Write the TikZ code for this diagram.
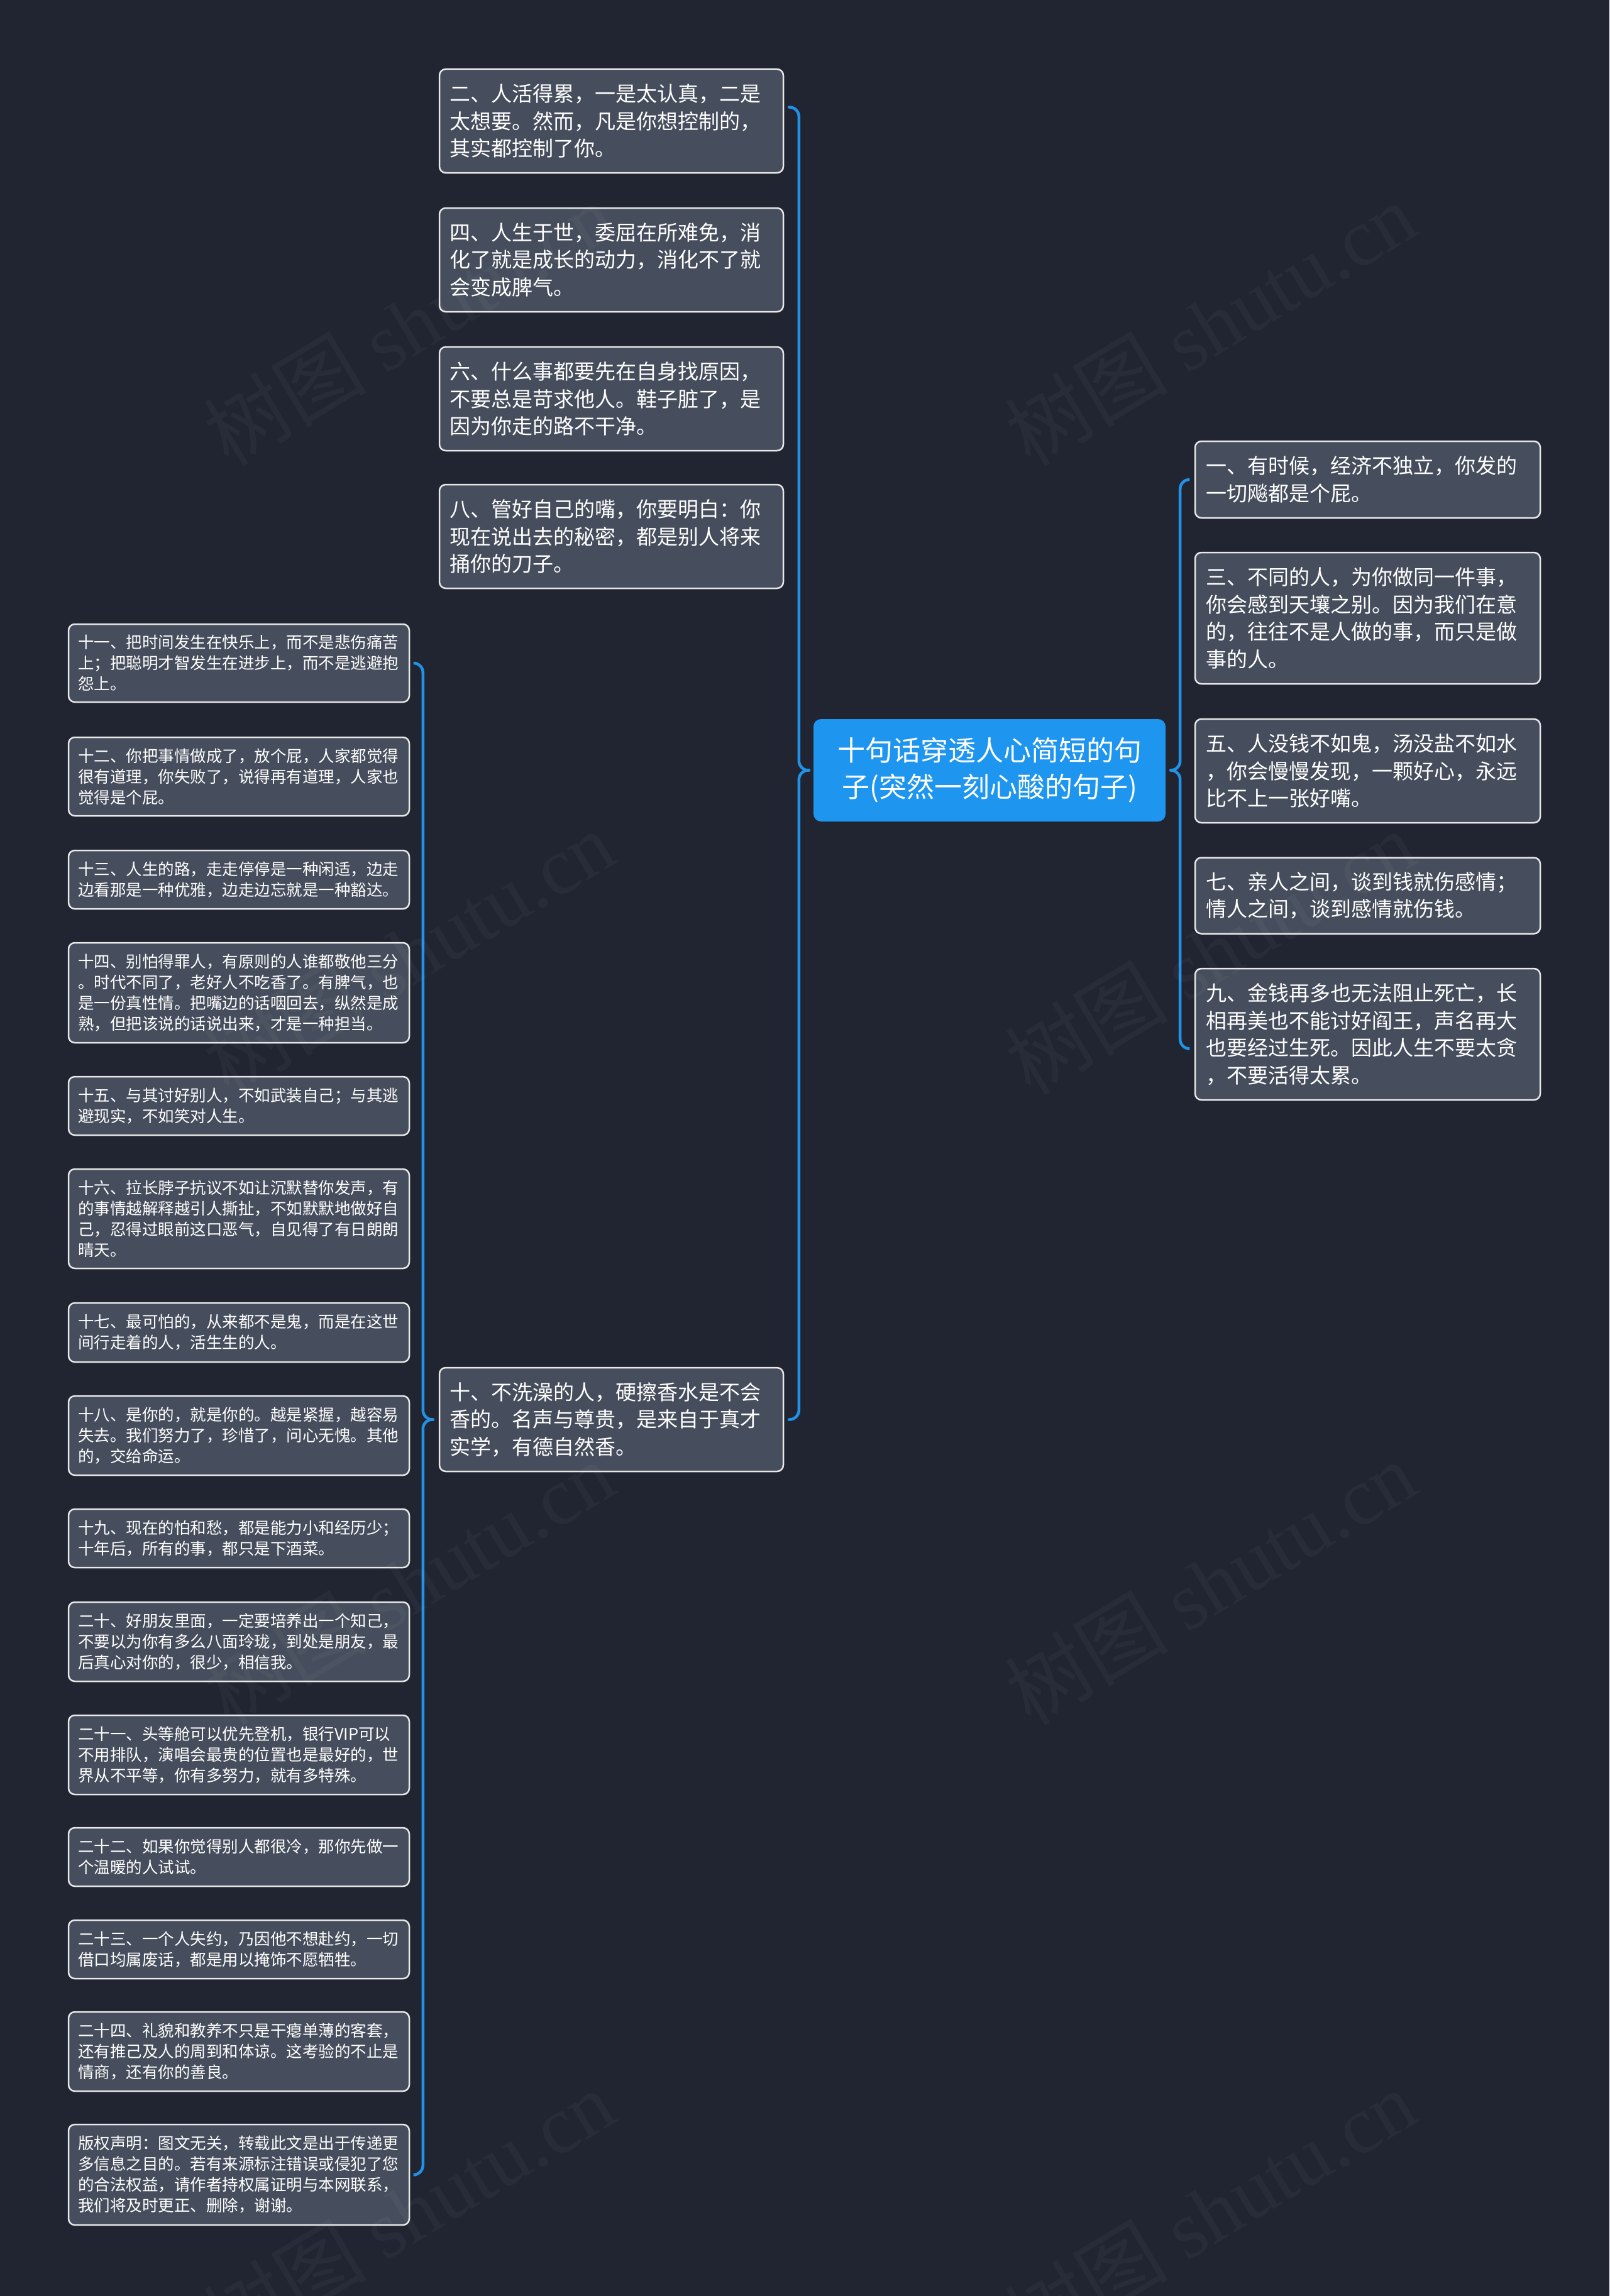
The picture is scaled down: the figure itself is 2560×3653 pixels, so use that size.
\documentclass[tikz,border=0pt]{standalone}
\usepackage{fontspec}
\setmainfont{Noto Sans CJK SC}
\newfontfamily\wmlatin{Liberation Serif}
\usetikzlibrary{calc}
\definecolor{bgc}{HTML}{212531}
\definecolor{boxfill}{HTML}{464D5C}
\definecolor{boxline}{HTML}{E8E8E8}
\definecolor{rootfill}{HTML}{1E96F0}
\definecolor{linkc}{HTML}{2192E8}
\tikzset{
  card/.style={draw=boxline, line width=2.5pt, fill=boxfill, rounded corners=10pt, text=white, align=left, inner ysep=0pt},
  midcard/.style={card, text width=515pt, inner xsep=16pt, font=\fontsize{33pt}{43.5pt}\selectfont},
  rightcard/.style={card, text width=515pt, inner xsep=17pt, font=\fontsize{33pt}{43.5pt}\selectfont},
  leftcard/.style={card, text width=512pt, inner xsep=15pt, font=\fontsize{25.5pt}{33pt}\selectfont},
  rootcard/.style={fill=rootfill, rounded corners=12pt, text=white, align=center, text width=520pt, inner xsep=20pt, inner ysep=0pt, font=\fontsize{44pt}{58pt}\selectfont},
  link/.style={draw=linkc, line width=4.5pt, rounded corners=15pt, line cap=round},
  wm/.style={text=white, text opacity=0.035, rotate=31, font=\fontsize{130pt}{130pt}\selectfont}
}
\hfuzz=20pt
\begin{document}
\begin{tikzpicture}[x=1pt, y=-1pt]
\useasboundingbox (0,0) rectangle (2560,3653);
\fill[bgc] (0,0) rectangle (2560,3653);

% root
\node[rootcard, minimum height=163pt] (root) at (1574,1225.5) {十句话穿透人心简短的句\\子(突然一刻心酸的句子)};

% middle column
\node[midcard, minimum height=165pt] (n2) at (972.5,192.5) {二、人活得累，一是太认真，二是\\太想要。然而，凡是你想控制的，\\其实都控制了你。};
\node[midcard, minimum height=165pt] (n4) at (972.5,413.5) {四、人生于世，委屈在所难免，消\\化了就是成长的动力，消化不了就\\会变成脾气。};
\node[midcard, minimum height=165pt] (n6) at (972.5,634.5) {六、什么事都要先在自身找原因，\\不要总是苛求他人。鞋子脏了，是\\因为你走的路不干净。};
\node[midcard, minimum height=165pt] (n8) at (972.5,853.5) {八、管好自己的嘴，你要明白：你\\现在说出去的秘密，都是别人将来\\捅你的刀子。};
\node[midcard, minimum height=165pt] (n10) at (972.5,2258.5) {十、不洗澡的人，硬擦香水是不会\\香的。名声与尊贵，是来自于真才\\实学，有德自然香。};

% right column
\node[rightcard, minimum height=122pt] (n1) at (2175.5,763) {一、有时候，经济不独立，你发的\\一切飚都是个屁。};
\node[rightcard, minimum height=209pt] (n3) at (2175.5,983.5) {三、不同的人，为你做同一件事，\\你会感到天壤之别。因为我们在意\\的，往往不是人做的事，而只是做\\事的人。};
\node[rightcard, minimum height=165pt] (n5) at (2175.5,1226.5) {五、人没钱不如鬼，汤没盐不如水\\，你会慢慢发现，一颗好心，永远\\比不上一张好嘴。};
\node[rightcard, minimum height=121pt] (n7) at (2175.5,1425) {七、亲人之间，谈到钱就伤感情；\\情人之间，谈到感情就伤钱。};
\node[rightcard, minimum height=209pt] (n9) at (2175.5,1645.5) {九、金钱再多也无法阻止死亡，长\\相再美也不能讨好阎王，声名再大\\也要经过生死。因此人生不要太贪\\，不要活得太累。};

% left column
\node[leftcard, minimum height=124pt] (n11) at (380,1055) {十一、把时间发生在快乐上，而不是悲伤痛苦\\上；把聪明才智发生在进步上，而不是逃避抱\\怨上。};
\node[leftcard, minimum height=125pt] (n12) at (380,1235.5) {十二、你把事情做成了，放个屁，人家都觉得\\很有道理，你失败了，说得再有道理，人家也\\觉得是个屁。};
\node[leftcard, minimum height=93pt] (n13) at (380,1399.5) {十三、人生的路，走走停停是一种闲适，边走\\边看那是一种优雅，边走边忘就是一种豁达。};
\node[leftcard, minimum height=159pt] (n14) at (380,1579.5) {十四、别怕得罪人，有原则的人谁都敬他三分\\。时代不同了，老好人不吃香了。有脾气，也\\是一份真性情。把嘴边的话咽回去，纵然是成\\熟，但把该说的话说出来，才是一种担当。};
\node[leftcard, minimum height=93pt] (n15) at (380,1759.5) {十五、与其讨好别人，不如武装自己；与其逃\\避现实，不如笑对人生。};
\node[leftcard, minimum height=158pt] (n16) at (380,1939) {十六、拉长脖子抗议不如让沉默替你发声，有\\的事情越解释越引人撕扯，不如默默地做好自\\己，忍得过眼前这口恶气，自见得了有日朗朗\\晴天。};
\node[leftcard, minimum height=94pt] (n17) at (380,2120) {十七、最可怕的，从来都不是鬼，而是在这世\\间行走着的人，活生生的人。};
\node[leftcard, minimum height=126pt] (n18) at (380,2284) {十八、是你的，就是你的。越是紧握，越容易\\失去。我们努力了，珍惜了，问心无愧。其他\\的，交给命运。};
\node[leftcard, minimum height=93pt] (n19) at (380,2447.5) {十九、现在的怕和愁，都是能力小和经历少；\\十年后，所有的事，都只是下酒菜。};
\node[leftcard, minimum height=126pt] (n20) at (380,2612) {二十、好朋友里面，一定要培养出一个知己，\\不要以为你有多么八面玲珑，到处是朋友，最\\后真心对你的，很少，相信我。};
\node[leftcard, minimum height=126pt] (n21) at (380,2792) {二十一、头等舱可以优先登机，银行VIP可以\\不用排队，演唱会最贵的位置也是最好的，世\\界从不平等，你有多努力，就有多特殊。};
\node[leftcard, minimum height=93pt] (n22) at (380,2954.5) {二十二、如果你觉得别人都很冷，那你先做一\\个温暖的人试试。};
\node[leftcard, minimum height=93pt] (n23) at (380,3101.5) {二十三、一个人失约，乃因他不想赴约，一切\\借口均属废话，都是用以掩饰不愿牺牲。};
\node[leftcard, minimum height=126pt] (n24) at (380,3264) {二十四、礼貌和教养不只是干瘪单薄的客套，\\还有推己及人的周到和体谅。这考验的不止是\\情商，还有你的善良。};
\node[leftcard, minimum height=160pt] (n25) at (380,3460) {版权声明：图文无关，转载此文是出于传递更\\多信息之目的。若有来源标注错误或侵犯了您\\的合法权益，请作者持权属证明与本网联系，\\我们将及时更正、删除，谢谢。};

% connectors: root -> middle column
\draw[link] ([xshift=-7pt]root.west) -- ([xshift=-23pt]root.west) |- ([xshift=8pt,yshift=22pt]n2.east);
\draw[link] ([xshift=-7pt]root.west) -- ([xshift=-23pt]root.west) |- ([xshift=8pt]n10.east);
% root -> right column
\draw[link] ([xshift=8pt]root.east) -- ([xshift=23pt]root.east) |- ([xshift=-8pt]n1.west);
\draw[link] ([xshift=8pt]root.east) -- ([xshift=23pt]root.east) |- ([xshift=-8pt,yshift=-23pt]n9.west);
% n10 -> left column
\draw[link] ([xshift=-9pt]n10.west) -- ([xshift=-25pt]n10.west) |- ([xshift=9pt]n11.east);
\draw[link] ([xshift=-9pt]n10.west) -- ([xshift=-25pt]n10.west) |- ([xshift=9pt]n25.east);

% watermarks
\foreach \wy [count=\i] in {515,1515,2518,3518}{
  \node[wm] (wl\i) at (650,\wy) {树图 {\wmlatin shutu.cn}};
  \node[wm] (wr\i) at (1925,\wy) {树图 {\wmlatin shutu.cn}};
}
\end{tikzpicture}
\end{document}
